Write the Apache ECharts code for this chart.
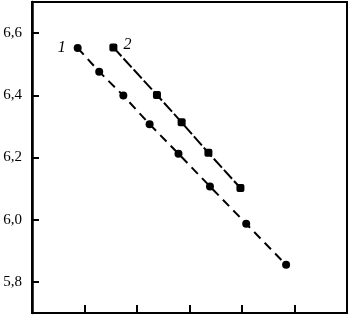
<!DOCTYPE html>
<html><head><meta charset="utf-8">
<script src="https://cdn.jsdelivr.net/npm/echarts@6/dist/echarts.min.js"></script>
<style>html,body{margin:0;padding:0;background:#fff}#c{width:349px;height:315px}</style>
</head><body><div id="c"></div>
<script>
const series1X = [0.87, 1.28, 1.74, 2.24, 2.79, 3.39, 4.08, 4.84];
const series1Y = [6.552, 6.476, 6.399, 6.307, 6.212, 6.107, 5.987, 5.855];
const series2X = [1.55, 2.38, 2.85, 3.36, 3.97];
const series2Y = [6.554, 6.401, 6.313, 6.215, 6.102];
const seriesNames = ['1', '2'];
const yTicks = [5.8, 6.0, 6.2, 6.4, 6.6];

const chart = echarts.init(document.getElementById('c'));
const toPairs = (xs, ys) => xs.map((x, i) => [x, ys[i]]);
const d1 = toPairs(series1X, series1Y);
const d2 = toPairs(series2X, series2Y);
const labStyle = {fontFamily: 'Liberation Serif', fontStyle: 'italic', fontSize: 16, color: '#000'};
d1[0] = {value: d1[0], label: Object.assign({show: true, position: 'left', distance: 8, formatter: seriesNames[0]}, labStyle)};
d2[0] = {value: d2[0], label: Object.assign({show: true, position: 'right', distance: 6, offset: [0, -3], formatter: seriesNames[1]}, labStyle)};

chart.setOption({
  animation: false,
  grid: {left: 32, right: 2, top: 2, bottom: 2, show: true, borderColor: '#000', borderWidth: 2},
  xAxis: {
    type: 'value', min: 0, max: 6, interval: 1,
    axisLine: {show: true, lineStyle: {color: '#000', width: 2}},
    axisTick: {show: true, inside: true, length: 8, lineStyle: {color: '#000', width: 2}},
    axisLabel: {show: false},
    splitLine: {show: false}
  },
  yAxis: {
    type: 'value', min: 5.7, max: 6.7,
    axisLine: {show: true, lineStyle: {color: '#000', width: 2.5}},
    axisTick: {show: true, inside: true, length: 7, lineStyle: {color: '#000', width: 2}, customValues: yTicks},
    axisLabel: {
      show: true, customValues: yTicks, margin: 10,
      fontFamily: 'Liberation Serif', fontSize: 15, color: '#000',
      formatter: v => v.toFixed(1).replace('.', ',')
    },
    splitLine: {show: false}
  },
  series: [
    {type: 'line', data: d1, symbol: 'circle', symbolSize: 8,
     itemStyle: {color: '#000'}, lineStyle: {color: '#000', width: 2, type: [9, 6]}},
    {type: 'line', data: d2, symbol: 'roundRect', symbolSize: 8,
     itemStyle: {color: '#000'}, lineStyle: {color: '#000', width: 2, type: [12, 3]}}
  ]
});
</script></body></html>
